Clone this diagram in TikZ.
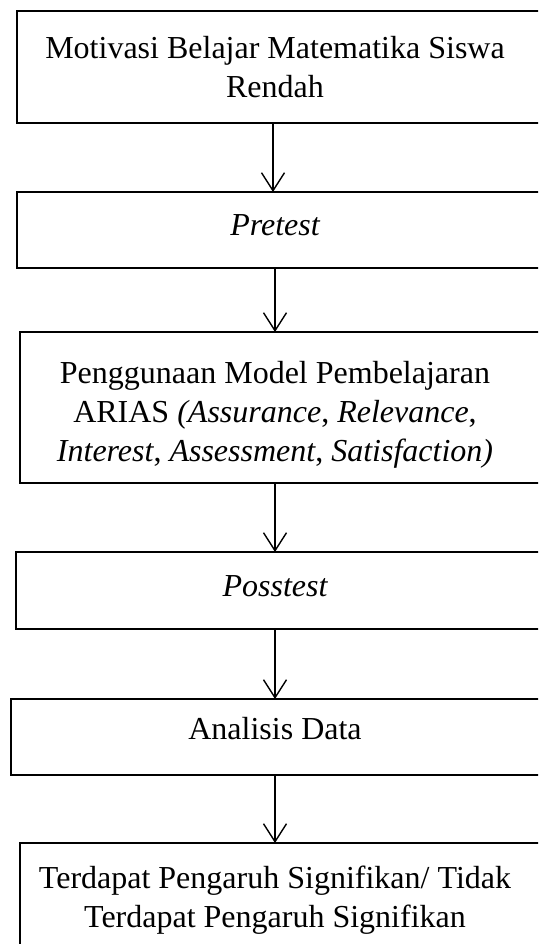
\documentclass[tikz,border=0pt]{standalone}
\usepackage{fontspec}
\setmainfont{Liberation Serif}
\usetikzlibrary{arrows.meta}
\tikzset{
  box/.style={draw=black, line width=1.6pt, rectangle, anchor=north west, inner sep=0pt, outer sep=0pt},
  txt/.style={align=center, inner sep=0pt, font=\fontsize{32}{39}\selectfont},
  arr/.style={draw=black, line width=1.4pt, -{Straight Barb[length=18pt,width=23pt,line width=1.4pt]}}
}
\begin{document}
\begin{tikzpicture}[x=1pt,y=-1pt]
\useasboundingbox (0,0) rectangle (538,944);
\clip (0,0) rectangle (538,944);
\node[box, minimum width=560pt, minimum height=112pt] (b1) at (17,11) {};
\node[box, minimum width=560pt, minimum height=76pt] (b2) at (17,192) {};
\node[box, minimum width=560pt, minimum height=151pt] (b3) at (20,332) {};
\node[box, minimum width=560pt, minimum height=77pt] (b4) at (16,552) {};
\node[box, minimum width=560pt, minimum height=76pt] (b5) at (11,699) {};
\node[box, minimum width=560pt, minimum height=140pt] (b6) at (20,843) {};
\node[txt] (t1) at (275,67) {Motivasi Belajar Matematika Siswa\\Rendah};
\node[txt] (t2) at (275,225) {\itshape Pretest};
\node[txt] (t3) at (275,415) {Penggunaan Model Pembelajaran\\ARIAS \textit{(Assurance}, \textit{Relevance},\\\textit{Interest}, \textit{Assessment}, \textit{Satisfaction)}};
\node[txt] (t4) at (275,586) {\itshape Posstest};
\node[txt] (t5) at (275,729) {Analisis Data};
\node[txt] (t6) at (275,900) {Terdapat Pengaruh Signifikan/ Tidak\\Terdapat Pengaruh Signifikan};
\coordinate (a1) at (273,0);
\coordinate (ax) at (275,0);
\draw[arr] (b1.south -| a1) -- (b2.north -| a1);
\draw[arr] (b2.south -| ax) -- (b3.north -| ax);
\draw[arr] (b3.south -| ax) -- (b4.north -| ax);
\draw[arr] (b4.south -| ax) -- (b5.north -| ax);
\draw[arr] (b5.south -| ax) -- (b6.north -| ax);
\end{tikzpicture}
\end{document}
